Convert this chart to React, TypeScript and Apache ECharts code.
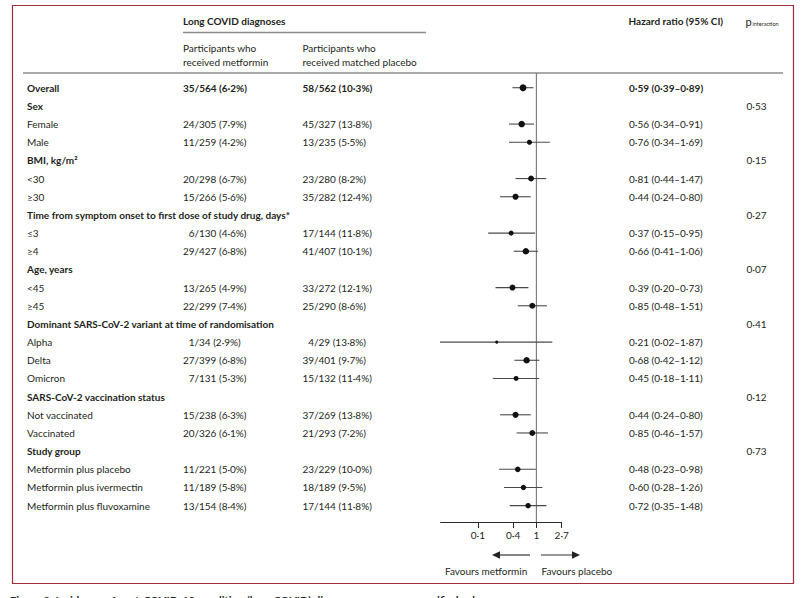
import React, { useEffect, useRef } from 'react';
import * as echarts from 'echarts';

// Row labels of the subgroup table, top to bottom
const rowLabels = [
  'Overall',
  'Sex',
  'Female',
  'Male',
  'BMI, kg/m²',
  '<30',
  '≥30',
  'Time from symptom onset to first dose of study drug, days*',
  '≤3',
  '≥4',
  'Age, years',
  '<45',
  '≥45',
  'Dominant SARS-CoV-2 variant at time of randomisation',
  'Alpha',
  'Delta',
  'Omicron',
  'SARS-CoV-2 vaccination status',
  'Not vaccinated',
  'Vaccinated',
  'Study group',
  'Metformin plus placebo',
  'Metformin plus ivermectin',
  'Metformin plus fluvoxamine',
];

// Rows set in bold (overall row and subgroup headings)
const boldRows = [0, 1, 4, 7, 10, 13, 17, 20];

// Long COVID diagnoses: metformin arm
const metforminEvents = [35, null, 24, 11, null, 20, 15, null, 6, 29, null, 13, 22, null, 1, 27, 7, null, 15, 20, null, 11, 11, 13];
const metforminTotals = [564, null, 305, 259, null, 298, 266, null, 130, 427, null, 265, 299, null, 34, 399, 131, null, 238, 326, null, 221, 189, 154];
const metforminPct = [6.2, null, 7.9, 4.2, null, 6.7, 5.6, null, 4.6, 6.8, null, 4.9, 7.4, null, 2.9, 6.8, 5.3, null, 6.3, 6.1, null, 5.0, 5.8, 8.4];

// Long COVID diagnoses: matched placebo arm
const placeboEvents = [58, null, 45, 13, null, 23, 35, null, 17, 41, null, 33, 25, null, 4, 39, 15, null, 37, 21, null, 23, 18, 17];
const placeboTotals = [562, null, 327, 235, null, 280, 282, null, 144, 407, null, 272, 290, null, 29, 401, 132, null, 269, 293, null, 229, 189, 144];
const placeboPct = [10.3, null, 13.8, 5.5, null, 8.2, 12.4, null, 11.8, 10.1, null, 12.1, 8.6, null, 13.8, 9.7, 11.4, null, 13.8, 7.2, null, 10.0, 9.5, 11.8];

// Hazard ratios with 95% CI
const hazardRatio = [0.59, null, 0.56, 0.76, null, 0.81, 0.44, null, 0.37, 0.66, null, 0.39, 0.85, null, 0.21, 0.68, 0.45, null, 0.44, 0.85, null, 0.48, 0.60, 0.72];
const ciLower = [0.39, null, 0.34, 0.34, null, 0.44, 0.24, null, 0.15, 0.41, null, 0.20, 0.48, null, 0.02, 0.42, 0.18, null, 0.24, 0.46, null, 0.23, 0.28, 0.35];
const ciUpper = [0.89, null, 0.91, 1.69, null, 1.47, 0.80, null, 0.95, 1.06, null, 0.73, 1.51, null, 1.87, 1.12, 1.11, null, 0.80, 1.57, null, 0.98, 1.26, 1.48];

// p for interaction, shown on subgroup heading rows
const pInteraction = [null, 0.53, null, null, 0.15, null, null, 0.27, null, null, 0.07, null, null, 0.41, null, null, null, 0.12, null, null, 0.73, null, null, null];

// Hazard ratio axis
const axisMin = 0.0232;
const axisMax = 2.7;
const tickValues = [0.1, 0.4, 1, 2.7];

const FONT = 'Lato, "Open Sans", sans-serif';
const INK = '#231f20';

const dot = (v: number, d: number) => v.toFixed(d).replace('.', '·');

export default function App() {
  const ref = useRef<HTMLDivElement>(null);

  useEffect(() => {
    if (!ref.current) return;
    const chart = echarts.init(ref.current, null, { renderer: 'svg' });

    const rowTop = -0.81;
    const rowBottom = 23.9;

    const txt = (text: string, x: number, y: number, opts: any = {}) => ({
      type: 'text',
      x,
      y,
      style: {
        text,
        fill: opts.fill || INK,
        font: `${opts.bold ? 'bold ' : ''}${opts.size || 10}px ${FONT}`,
        textAlign: opts.align || 'left',
        textVerticalAlign: opts.vAlign || 'middle',
        align: opts.align || 'left',
        verticalAlign: opts.vAlign || 'middle',
      },
    });

    const forestData: number[][] = [];
    hazardRatio.forEach((hr, i) => {
      if (hr == null) return;
      forestData.push([hr, ciLower[i] as number, ciUpper[i] as number, i, (metforminEvents[i] as number) + (placeboEvents[i] as number)]);
    });

    const tableData = rowLabels.map((_, i) => [1, i]);

    const option: any = {
      animation: false,
      backgroundColor: '#ffffff',
      grid: { left: 440.7, right: 243.3, top: 73, bottom: 76, containLabel: false },
      xAxis: {
        type: 'log',
        logBase: 10,
        min: axisMin,
        max: axisMax,
        axisLine: { show: true, onZero: false, lineStyle: { color: '#2a2a2a', width: 1 } },
        axisTick: { show: true, customValues: tickValues, length: 6, lineStyle: { color: '#2a2a2a', width: 1 } },
        axisLabel: {
          customValues: tickValues,
          formatter: (v: number) => String(Math.round(v * 10) / 10).replace('.', '·'),
          color: INK,
          fontSize: 10,
          fontFamily: FONT,
          margin: 8,
        },
        splitLine: { show: false },
        minorTick: { show: false },
      },
      yAxis: {
        type: 'value',
        inverse: true,
        min: rowTop,
        max: rowBottom,
        show: false,
      },
      series: [
        {
          // line of no effect
          type: 'line',
          data: [[1, rowTop], [1, rowBottom]],
          symbol: 'none',
          lineStyle: { color: '#7d7d7d', width: 1.2 },
          silent: true,
          z: 1,
        },
        {
          type: 'custom',
          data: forestData,
          encode: { x: [0, 1, 2], y: 3 },
          clip: true,
          z: 3,
          renderItem: (_params: any, api: any) => {
            const row = api.value(3);
            const p = api.coord([api.value(0), row]);
            const l = api.coord([api.value(1), row]);
            const h = api.coord([api.value(2), row]);
            const diameter = 1 + 1.3 * Math.log(api.value(4));
            return {
              type: 'group',
              children: [
                { type: 'line', shape: { x1: l[0], y1: l[1], x2: h[0], y2: h[1] }, style: { stroke: '#4a4a4a', lineWidth: 1.1 } },
                { type: 'circle', shape: { cx: p[0], cy: p[1], r: diameter / 2 }, style: { fill: '#111111' } },
              ],
            };
          },
        },
        {
          type: 'custom',
          data: tableData,
          encode: { x: 0, y: 1 },
          clip: false,
          silent: true,
          z: 4,
          renderItem: (params: any, api: any) => {
            const i = params.dataIndex;
            const y = api.coord([1, i])[1];
            const bold = boldRows.indexOf(i) >= 0;
            const children: any[] = [txt(rowLabels[i], 27, y, { bold })];
            if (metforminEvents[i] != null) {
              children.push(txt(String(metforminEvents[i]), 194.5, y, { bold, align: 'right' }));
              children.push(txt(`/${metforminTotals[i]} (${dot(metforminPct[i] as number, 1)}%)`, 194.5, y, { bold }));
              children.push(txt(String(placeboEvents[i]), 314, y, { bold, align: 'right' }));
              children.push(txt(`/${placeboTotals[i]} (${dot(placeboPct[i] as number, 1)}%)`, 314, y, { bold }));
              children.push(
                txt(
                  `${dot(hazardRatio[i] as number, 2)} (${dot(ciLower[i] as number, 2)}–${dot(ciUpper[i] as number, 2)})`,
                  629,
                  y,
                  { bold }
                )
              );
            }
            if (pInteraction[i] != null) {
              children.push(txt(dot(pInteraction[i] as number, 2), 746.5, y));
            }
            return { type: 'group', children };
          },
        },
      ],
      graphic: {
        elements: [
          {
            type: 'rect',
            shape: { x: 12.5, y: 5.5, width: 781, height: 578 },
            style: { fill: 'none', stroke: '#a02c3e', lineWidth: 1.2 },
            silent: true,
          },
          txt('Long COVID diagnoses', 183, 20.5, { bold: true }),
          { type: 'line', shape: { x1: 183, y1: 32.5, x2: 426, y2: 32.5 }, style: { stroke: '#8c8c8c', lineWidth: 1.5 } },
          txt('Participants who', 183, 48),
          txt('received metformin', 183, 62),
          txt('Participants who', 302.5, 48),
          txt('received matched placebo', 302.5, 62),
          { type: 'line', shape: { x1: 23, y1: 73, x2: 783, y2: 73 }, style: { stroke: '#8c8c8c', lineWidth: 1.5 } },
          txt('Hazard ratio (95% CI)', 628.5, 20.5, { bold: true }),
          txt('p', 745.5, 21, { size: 11 }),
          txt('interaction', 752.5, 23.5, { size: 5.5 }),
          // direction arrows
          { type: 'line', shape: { x1: 530, y1: 555, x2: 498, y2: 555 }, style: { stroke: '#333', lineWidth: 1.2 } },
          { type: 'polygon', shape: { points: [[492, 555], [500, 551.3], [500, 558.7]] }, style: { fill: '#222' } },
          { type: 'line', shape: { x1: 541, y1: 555, x2: 574, y2: 555 }, style: { stroke: '#333', lineWidth: 1.2 } },
          { type: 'polygon', shape: { points: [[580, 555], [572, 551.3], [572, 558.7]] }, style: { fill: '#222' } },
          txt('Favours metformin', 445, 571),
          txt('Favours placebo', 541.5, 571),
          txt('Figure 2: Incidence of post-COVID-19 condition (long COVID) diagnoses across prespecified subgroups', 10, 595, {
            bold: true,
            size: 11,
            vAlign: 'top',
          }),
        ],
      },
    };

    chart.setOption(option);
    return () => chart.dispose();
  }, []);

  return <div ref={ref} style={{ position: 'absolute', left: 0, top: 0, width: 805, height: 598 }} />;
}
